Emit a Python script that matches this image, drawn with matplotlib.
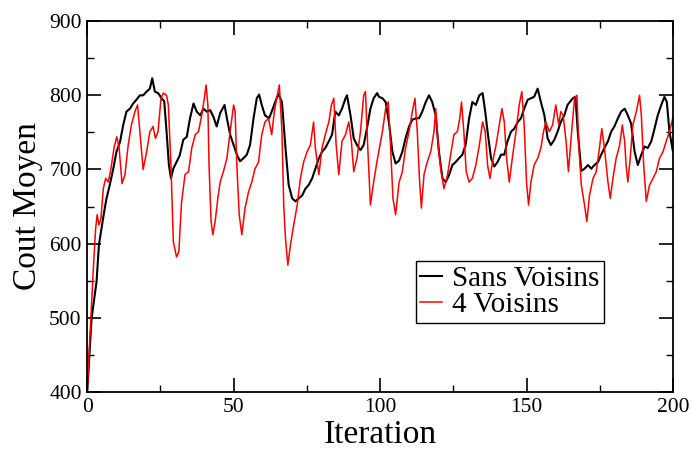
import matplotlib
matplotlib.use("Agg")
import matplotlib.pyplot as plt
from matplotlib.ticker import MultipleLocator

#DATA

sans_iter = [0, 1.5, 3.2, 4, 4.7, 5.8, 6.6, 7.7, 8.9, 10, 11.2, 12.3, 13.4, 14.6, 15.7, 16.8, 18, 19.1, 20.3, 21.4,
             22.2, 23.1, 24.2, 25.4, 26.3, 27.1, 27.9, 28.6, 29.4, 30.5, 31.6, 32.8,
             34, 35.1, 36.3, 37.4, 38.6, 39.7, 40.8, 42, 43.1, 44.2, 45.4, 46.9, 47.7, 48.8, 50, 51.1, 52.2, 53.3,
             54.5, 55.6, 56.8, 57.9, 58.7, 59.6, 60.7, 62.1, 63, 64.2, 65.3,
             66.5, 67.7, 68.8, 70, 71.1, 72.2, 73.4, 74.5, 75.6, 76.8, 77.9, 79.1, 80.2, 81.3, 82.5, 83.6, 84.7, 85.9,
             87, 88.2, 88.7, 89.9, 91, 92.1, 93.3, 94.4, 95.5, 96.7, 97.8, 99,
             99.6, 100.8, 101.9, 103, 104.2, 105.3, 106.5, 107.6, 108.7, 109.9, 111, 112.2, 113.3, 114.4, 115.6,
             116.7, 117.8, 119, 120.1, 121.3, 122.4, 123.5, 124.7, 125.8, 126.9, 128.1, 129.2, 130.4, 131.5,
             132.7, 133.9, 135, 135.9, 136.7, 137.9, 139, 140.1, 141.3, 142.4, 143.5, 144.7, 145.8, 147, 148.1,
             149.2, 150.4, 151.5, 152.6, 153.8, 154.9, 156.1, 157.2, 158.3, 159.5, 160.6, 161.7, 162.9, 164,
             165.8, 166.7, 167.5, 168.7, 169.8, 171, 172.1, 173.2, 174.4, 175.5, 176.6, 177.8, 178.9, 180, 181.2,
             182.3, 183.5, 184.6, 185.7, 186.9, 188, 189.2, 190.3, 191.4, 192.6, 193.7, 194.8, 196, 197.1, 197.9,
             198.8, 200]
sans_cost = [400, 499, 549, 598, 616, 643, 661, 679, 701, 724, 737, 760, 778, 782, 789, 794, 800, 800, 805, 809,
             823, 805, 803, 796, 792, 751, 706, 688, 701, 710, 719, 740,
             744, 769, 789, 778, 773, 782, 778, 780, 771, 758, 776, 787, 769, 747, 733, 720, 711, 715,
             720, 733, 769, 796, 801, 787, 773, 769, 778, 791, 802,
             791, 729, 679, 661, 657, 661, 665, 674, 679, 688, 701, 715, 724, 729, 738, 747, 778, 773,
             782, 796, 800, 773, 742, 733, 726, 733, 755, 782, 796, 803,
             798, 796, 791, 764, 724, 708, 712, 724, 742, 758, 767, 769, 769, 778, 791,
             800, 791, 773, 724, 688, 683, 692, 706, 710, 715, 720, 733, 769, 791,
             787, 800, 803, 778, 751, 715, 704, 710, 720, 720, 738, 751, 755, 764, 769,
             782, 794, 796, 798, 809, 791, 773, 742, 733, 740, 751, 764, 773, 787,
             796, 798, 751, 698, 701, 706, 701, 706, 710, 720, 729, 738, 751, 758, 769,
             778, 782, 773, 762, 724, 706, 720, 731, 729, 738, 755, 773, 787, 798, 791,
             751, 724]

voisins_iter = [0, 0.9, 2.1, 2.9, 3.4, 4, 4.7, 5.5, 6.3, 7.2, 8.1, 9.2, 10.1, 10.9, 11.9, 12.9, 14, 15.1, 16.3,
                17.2, 18, 19.1, 20.3, 21.4, 22.5, 23.3, 24.2, 25.2, 26, 27.1, 27.7, 28.6, 29.4, 30.5, 31.3, 32.2,
                33.4, 34.6, 35.7, 36.9, 38, 39.1, 40, 40.6, 41.2, 41.6, 42.3, 42.9, 43.7, 44.6, 45.4, 46.5, 47.7,
                48.8, 50, 50.5, 51.1, 51.9, 52.8, 53.9, 55.1, 56.2, 57.3, 58.5, 59.6, 60.7, 61.9, 63, 63.9, 64.7,
                65.6, 66.5, 67.1, 67.7, 68.5, 69.4, 70.5, 71.7, 72.8, 73.9, 75.1, 76.2, 77.3, 77.9, 79.1, 80.2,
                81.3, 82.5, 83.4, 84.2, 85, 85.9, 87, 88.2, 89.3, 90.2, 91, 92.1, 93.3, 94.4, 95, 95.8, 96.7, 97.8,
                99, 100.8, 101.9, 102.8, 103.6, 104.4, 105.3, 106.5, 107.6, 108.7, 109.9, 111, 111.9, 112.7,
                113.5, 114.1, 115, 116.1, 117.3, 118.4, 119, 119.9, 120.7, 121.8, 123, 124.1, 125.2, 126.4, 127.2,
                127.8, 128.6, 129.4, 130.4, 131.5, 132.7, 133.9, 135, 135.9, 136.7, 137.5, 138.4, 139.6, 140.7,
                141.6, 142.4, 143.2, 144.1, 145.3, 146.4, 147.5, 148.4, 149.2, 150, 150.7, 151.5, 152.6, 153.8,
                154.9, 155.8, 156.6, 157.8, 158.9, 160, 161, 161.7, 162.5, 163.5, 164.3, 165.6, 166.4, 167.2,
                167.9, 168.7, 169.8, 170.6, 171.5, 172.7, 173.8, 174.9, 175.7, 176.6, 177.8, 178.6, 179.5, 180.6,
                181.8, 182.7, 183.5, 184, 184.6, 185.4, 186.3, 187.5, 188.6, 189.2, 190, 190.9, 192, 193.2, 194.3,
                195.4, 196.6, 197.7, 198.8, 200]
voisins_cost = [400, 472, 567, 621, 639, 625, 634, 674, 688, 683, 701, 730, 744, 729, 681, 693, 733, 760, 778,
                787, 751, 700, 724, 751, 758, 742, 751, 796, 803, 800, 787, 706, 603, 582, 589, 655,
                693, 697, 729, 747, 751, 773, 796, 814, 787, 706, 630, 612, 630, 661, 683, 697, 715,
                751, 787, 778, 706, 639, 612, 648, 670, 683, 701, 710, 747, 764, 769, 747, 778, 796,
                814, 751, 652, 607, 571, 598, 625, 652, 688, 710, 724, 733, 764, 729, 693, 729,
                747, 764, 787, 796, 733, 693, 738, 747, 764, 738, 697, 715, 751, 800, 805, 729, 652, 683,
                712, 751, 782, 791, 729, 661, 639, 683, 697, 729, 751, 778, 796, 751,
                683, 648, 693, 710, 724, 751, 782, 729, 701, 674, 692, 720, 747, 751, 769,
                791, 751, 697, 683, 688, 706, 733, 764, 751, 706, 688, 710, 733, 760,
                782, 764, 715, 683, 720, 751, 787, 805, 760, 683, 652, 683, 706, 715,
                729, 751, 764, 751, 760, 787, 760, 778, 773, 738, 697, 760, 796, 800,
                729, 679, 652, 630, 665, 688, 697, 729, 755, 729, 683, 661, 688, 715,
                733, 760, 738, 706, 683, 715, 760, 778, 800, 773, 706, 657, 679, 688, 697,
                715, 724, 738, 751, 770]

#PLOT

plt.rcParams["font.family"] = ["Liberation Serif", "DejaVu Serif"]

fig = plt.figure(figsize=(6.92, 4.5), dpi=100)
ax = fig.add_axes([0.126, 0.129, 0.8465, 0.824])

ax.plot(sans_iter, sans_cost, color="black", linewidth=1.5, label="Sans Voisins")
ax.plot(voisins_iter, voisins_cost, color="red", linewidth=1.1, label="4 Voisins")

ax.set_xlim(0, 200)
ax.set_ylim(400, 900)
ax.xaxis.set_major_locator(MultipleLocator(50))
ax.xaxis.set_minor_locator(MultipleLocator(25))
ax.yaxis.set_major_locator(MultipleLocator(100))
ax.yaxis.set_minor_locator(MultipleLocator(50))
ax.tick_params(which="both", direction="in", top=True, right=True, labelsize=15.5, colors="black")
ax.tick_params(which="major", length=10, width=1.2, pad=4)
ax.tick_params(which="minor", length=5, width=1.0)
for s in ax.spines.values():
    s.set_linewidth(1.3)

ax.set_xlabel("Iteration", fontsize=24, labelpad=2)
ax.set_ylabel("Cout Moyen", fontsize=24, labelpad=4)

leg = ax.legend(loc="upper left", bbox_to_anchor=(0.561, 0.353), borderaxespad=0, fontsize=21,
                handlelength=0.75, handletextpad=0.35, labelspacing=0.0, borderpad=0.15,
                fancybox=False, framealpha=1, edgecolor="black")
leg.get_frame().set_linewidth(1.0)

plt.savefig("out.png", dpi=100)
